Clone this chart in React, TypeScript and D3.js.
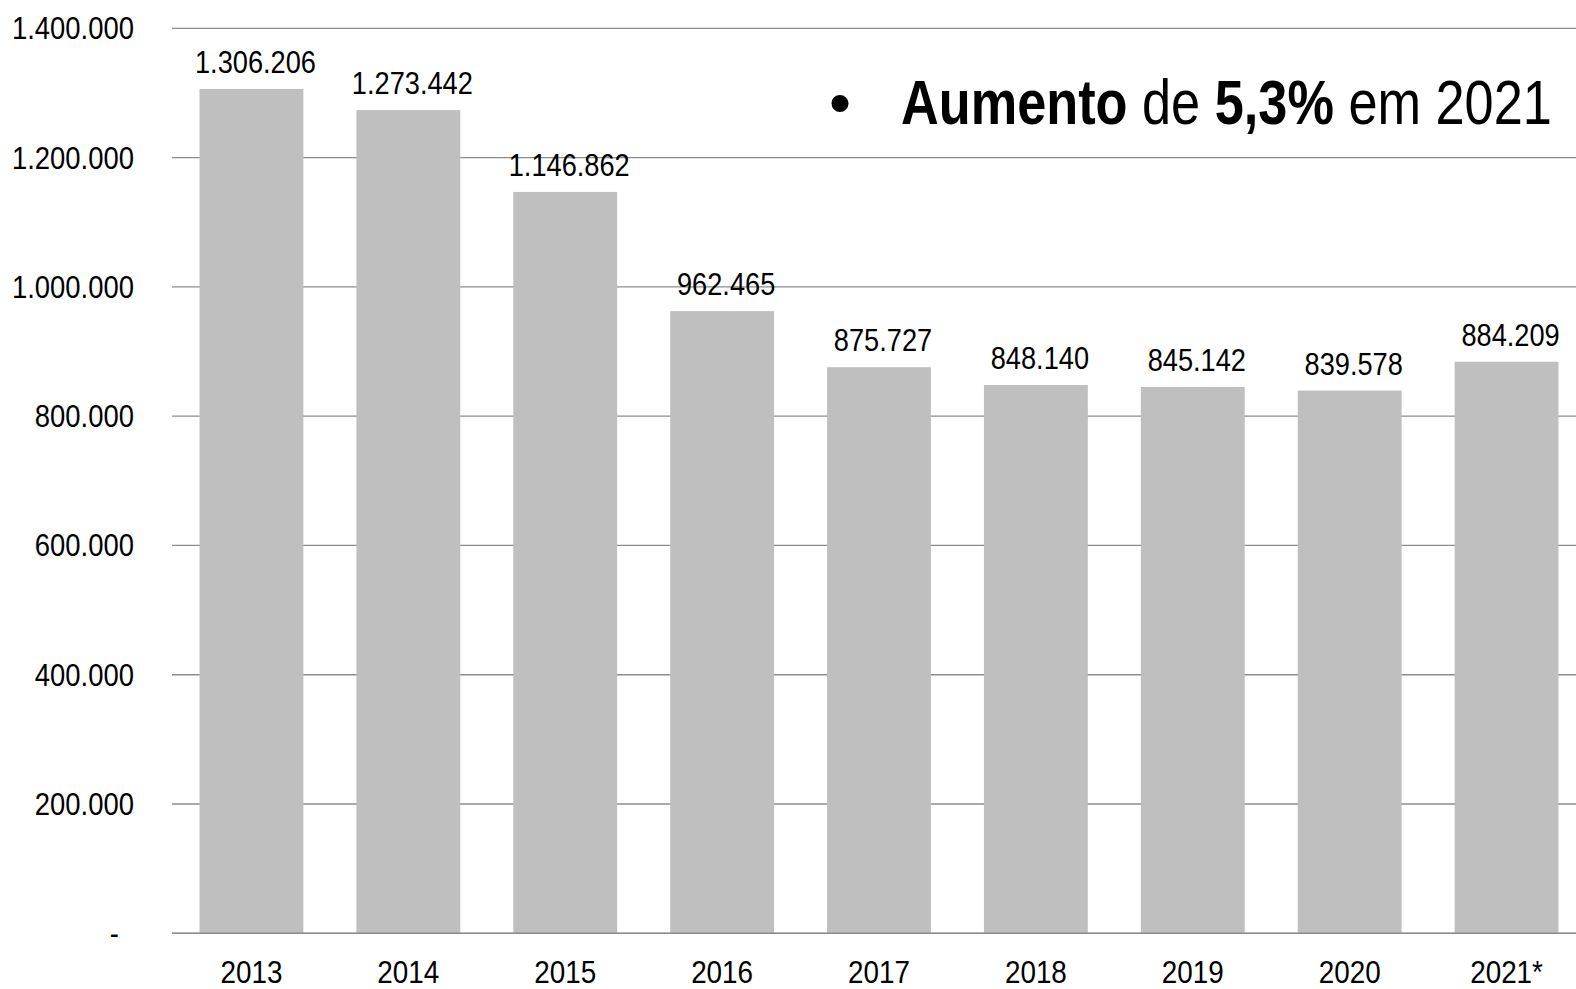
import React from "react";
import * as d3 from "d3";

const categories = ["2013", "2014", "2015", "2016", "2017", "2018", "2019", "2020", "2021*"];
const values = [1306206, 1273442, 1146862, 962465, 875727, 848140, 845142, 839578, 884209];
const yTicks = [0, 200000, 400000, 600000, 800000, 1000000, 1200000, 1400000];

const W = 1576;
const H = 989;
const FONT = "'Liberation Sans', Arial, Helvetica, sans-serif";

const fmt = (v: number) => (v === 0 ? "-" : d3.format(",")(v).replace(/,/g, "."));

function SText({ x, y, sx, size, anchor, children, weight }: any) {
  return (
    <g transform={`translate(${x},${y}) scale(${sx},1)`}>
      <text
        x={0}
        y={0}
        textAnchor={anchor}
        fontFamily={FONT}
        fontSize={size}
        fontWeight={weight || "normal"}
        fill="#000"
      >
        {children}
      </text>
    </g>
  );
}

export default function App() {
  const x = d3
    .scaleBand<string>()
    .domain(categories)
    .range([173, 1585])
    .paddingInner(0.338)
    .paddingOuter(0.169);
  const y = d3.scaleLinear().domain([0, 1400000]).range([933.3, 28.3]);

  return (
    <svg
      width={W}
      height={H}
      style={{ position: "absolute", left: 0, top: 0, background: "#fff" }}
    >
      <rect x={0} y={0} width={W} height={H} fill="#fff" />
      {yTicks.map((t) => (
        <line
          key={"g" + t}
          x1={172}
          x2={W}
          y1={y(t)}
          y2={y(t)}
          stroke="#8c8c8c"
          strokeWidth={1.3}
        />
      ))}
      {yTicks.map((t) => (
        <SText
          key={"t" + t}
          x={t === 0 ? 119 : 134}
          y={y(t) + 11}
          sx={0.885}
          size={31}
          anchor="end"
        >
          {fmt(t)}
        </SText>
      ))}
      {categories.map((c, i) => (
        <rect
          key={"b" + c}
          x={x(c)}
          y={y(values[i])}
          width={x.bandwidth()}
          height={y(0) - y(values[i])}
          fill="#bfbfbf"
        />
      ))}
      <line x1={172} x2={W} y1={y(0)} y2={y(0)} stroke="#8c8c8c" strokeWidth={1.5} />
      {categories.map((c, i) => (
        <SText
          key={"l" + c}
          x={(x(c) as number) + x.bandwidth() / 2 + 4}
          y={y(values[i]) - 16}
          sx={0.85}
          size={32}
          anchor="middle"
        >
          {fmt(values[i])}
        </SText>
      ))}
      {categories.map((c) => (
        <SText
          key={"x" + c}
          x={(x(c) as number) + x.bandwidth() / 2}
          y={983}
          sx={0.87}
          size={32}
          anchor="middle"
        >
          {c}
        </SText>
      ))}
      <text x={840} y={124} textAnchor="middle" fontFamily={FONT} fontSize={63} fill="#000">
        •
      </text>
      <g transform="translate(901,124) scale(0.83,1)">
        <text x={0} y={0} fontFamily={FONT} fontSize={63} fill="#000">
          <tspan fontWeight="bold">Aumento</tspan>
          <tspan> de </tspan>
          <tspan fontWeight="bold">5,3%</tspan>
          <tspan> em 2021</tspan>
        </text>
      </g>
    </svg>
  );
}
